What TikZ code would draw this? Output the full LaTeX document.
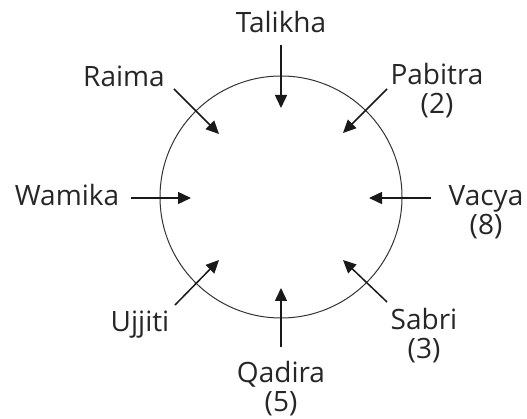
\documentclass[tikz,border=0pt]{standalone}
\usepackage{fontspec}
\setmainfont{Open Sans}
\usetikzlibrary{arrows.meta}
\begin{document}
\begin{tikzpicture}[x=1pt,y=-1pt,
  lbl/.style={anchor=base,inner sep=0pt,font=\fontsize{28}{29}\selectfont,text=black!85},
  arr/.style={line width=1.5pt,draw=black!90,-{Triangle[length=13pt,width=12pt]}},
  ringstyle/.style={draw=black!80,line width=1pt,circle,minimum size=242pt,inner sep=0pt}]
\useasboundingbox (0,0) rectangle (527,419);
\node[ringstyle] (ring) at (281,197) {};
% labels
\node[lbl] (tal) at (281,33) {Talikha};
\node[lbl] (rai) at (124,87) {Raima};
\node[lbl] (pab) at (437,85) {Pabitra};
\node[lbl] (pabn) at (437,114) {(2)};
\node[lbl] (wam) at (67,206) {Wamika};
\node[lbl] (vac) at (486,206) {Vacya};
\node[lbl] (vacn) at (486,235) {(8)};
\node[lbl] (ujj) at (140,331) {Ujjiti};
\node[lbl] (sab) at (424,330) {Sabri};
\node[lbl] (sabn) at (424,359) {(3)};
\node[lbl] (qad) at (281,382) {Qadira};
\node[lbl] (qadn) at (281,411) {(5)};
% arrow ends
\coordinate (talS) at (281,45);   \coordinate (talE) at (281,108);
\coordinate (raiS) at (174,89);   \coordinate (raiE) at (219,134);
\coordinate (pabS) at (387,89);   \coordinate (pabE) at (343,133);
\coordinate (wamS) at (131,198);  \coordinate (wamE) at (191,198);
\coordinate (vacS) at (431,198);  \coordinate (vacE) at (369,198);
\coordinate (ujjS) at (175,305);  \coordinate (ujjE) at (219,260);
\coordinate (sabS) at (387,302);  \coordinate (sabE) at (343,260);
\coordinate (qadS) at (281,347);  \coordinate (qadE) at (281,288);
\foreach \n in {tal,rai,pab,wam,vac,ujj,sab,qad}
  \draw[arr] (\n S) -- (\n E);
\end{tikzpicture}
\end{document}
